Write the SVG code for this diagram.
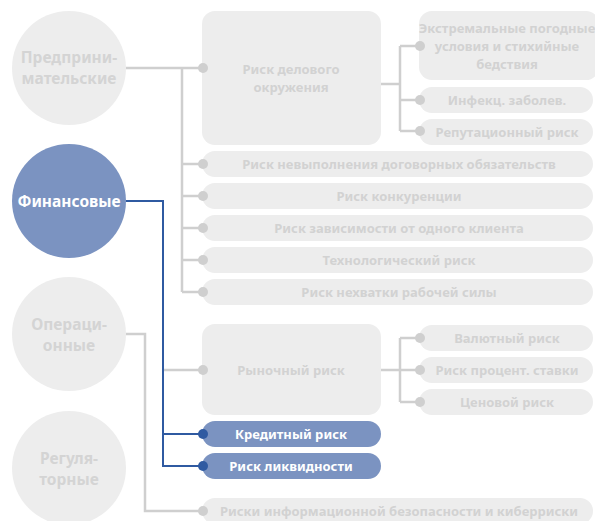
<svg xmlns="http://www.w3.org/2000/svg" width="595" height="521" viewBox="0 0 595 521">
<style>
.g{fill:#ededed}
.b{fill:#7b93c1}
.t{font-family:"Noto Sans","Open Sans",sans-serif;font-weight:bold;font-size:13px;text-anchor:middle;fill:#d2d2d2}
.tc{font-family:"Noto Sans","Open Sans",sans-serif;font-weight:bold;font-size:15.5px;text-anchor:middle;fill:#d4d4d4}
.w{fill:#ffffff}
.gl{fill:none;stroke:#cfcfcf;stroke-width:2.5}
.bl{fill:none;stroke:#2f5aa1;stroke-width:2}
.gd{fill:#cfcfcf}
.bd{fill:#2f5aa1}
</style>
<rect width="595" height="521" fill="#ffffff"/>
<g id="connectors">
<path class="gl" d="M126 68H203M182 68V292M182 164H203M182 196H203M182 228H203M182 260H203M182 292H203"/>
<path class="gl" d="M381 84H400M400 46V131M400 46H420M400 100H420M400 131H420"/>
<path class="gl" d="M163 370H203M381 370H400M400 338V402M400 338H420M400 370H420M400 402H420"/>
<path class="gl" d="M126 334H145V511H203"/>
<path class="bl" d="M126 201H163V466H203M163 434H203"/>
</g>
<g id="c1"><circle class="g" cx="69" cy="68" r="57"/><text class="tc" x="69" y="63">Предприни-</text><text class="tc" x="69" y="84">мательские</text></g>
<g id="c2"><circle class="b" cx="69" cy="201" r="57"/><text class="tc w" x="69" y="207">Финансовые</text></g>
<g id="c3"><circle class="g" cx="69" cy="334" r="57"/><text class="tc" x="69" y="330">Операци-</text><text class="tc" x="69" y="351">онные</text></g>
<g id="c4"><circle class="g" cx="69" cy="468" r="57"/><text class="tc" x="69" y="464">Регуля-</text><text class="tc" x="69" y="485">торные</text></g>
<g id="n1"><rect class="g" x="202" y="11" width="179" height="134" rx="13"/><text class="t" x="291" y="74">Риск делового</text><text class="t" x="291" y="92">окружения</text></g>
<g id="n1a"><rect class="g" x="419" y="11" width="180" height="69" rx="13"/><text class="t" x="507" y="33">Экстремальные погодные</text><text class="t" x="507" y="51">условия и стихийные</text><text class="t" x="507" y="69">бедствия</text></g>
<g id="n1b"><rect class="g" x="419" y="87" width="174" height="26" rx="13"/><text class="t" x="507" y="105">Инфекц. заболев.</text></g>
<g id="n1c"><rect class="g" x="419" y="119" width="174" height="26" rx="13"/><text class="t" x="507" y="137">Репутационный риск</text></g>
<g id="n2"><rect class="g" x="202" y="151" width="391" height="26" rx="13"/><text class="t" x="399" y="169">Риск невыполнения договорных обязательств</text></g>
<g id="n3"><rect class="g" x="202" y="183" width="391" height="26" rx="13"/><text class="t" x="399" y="201">Риск конкуренции</text></g>
<g id="n4"><rect class="g" x="202" y="215" width="391" height="26" rx="13"/><text class="t" x="399" y="233">Риск зависимости от одного клиента</text></g>
<g id="n5"><rect class="g" x="202" y="247" width="391" height="26" rx="13"/><text class="t" x="399" y="265">Технологический риск</text></g>
<g id="n6"><rect class="g" x="202" y="279" width="391" height="26" rx="13"/><text class="t" x="399" y="297">Риск нехватки рабочей силы</text></g>
<g id="n7"><rect class="g" x="202" y="324" width="179" height="91" rx="13"/><text class="t" x="291" y="375">Рыночный риск</text></g>
<g id="n7a"><rect class="g" x="419" y="325" width="174" height="26" rx="13"/><text class="t" x="507" y="343">Валютный риск</text></g>
<g id="n7b"><rect class="g" x="419" y="357" width="174" height="26" rx="13"/><text class="t" x="507" y="375">Риск процент. ставки</text></g>
<g id="n7c"><rect class="g" x="419" y="389" width="174" height="26" rx="13"/><text class="t" x="507" y="407">Ценовой риск</text></g>
<g id="n8"><rect class="b" x="202" y="421" width="179" height="26" rx="13"/><text class="t w" x="291" y="439">Кредитный риск</text></g>
<g id="n9"><rect class="b" x="202" y="453" width="179" height="26" rx="13"/><text class="t w" x="291" y="471">Риск ликвидности</text></g>
<g id="n10"><rect class="g" x="202" y="498" width="391" height="26" rx="13"/><text class="t" x="399" y="516">Риски информационной безопасности и киберриски</text></g>
<g id="dots">
<circle class="gd" cx="203" cy="68" r="5"/><circle class="gd" cx="203" cy="164" r="5"/><circle class="gd" cx="203" cy="196" r="5"/><circle class="gd" cx="203" cy="228" r="5"/><circle class="gd" cx="203" cy="260" r="5"/><circle class="gd" cx="203" cy="292" r="5"/>
<circle class="gd" cx="420" cy="46" r="5"/><circle class="gd" cx="420" cy="100" r="5"/><circle class="gd" cx="420" cy="131" r="5"/>
<circle class="gd" cx="203" cy="370" r="5"/><circle class="gd" cx="420" cy="338" r="5"/><circle class="gd" cx="420" cy="370" r="5"/><circle class="gd" cx="420" cy="402" r="5"/>
<circle class="gd" cx="203" cy="511" r="5"/>
<circle class="bd" cx="203" cy="434" r="5"/><circle class="bd" cx="203" cy="466" r="5"/>
</g>
</svg>
